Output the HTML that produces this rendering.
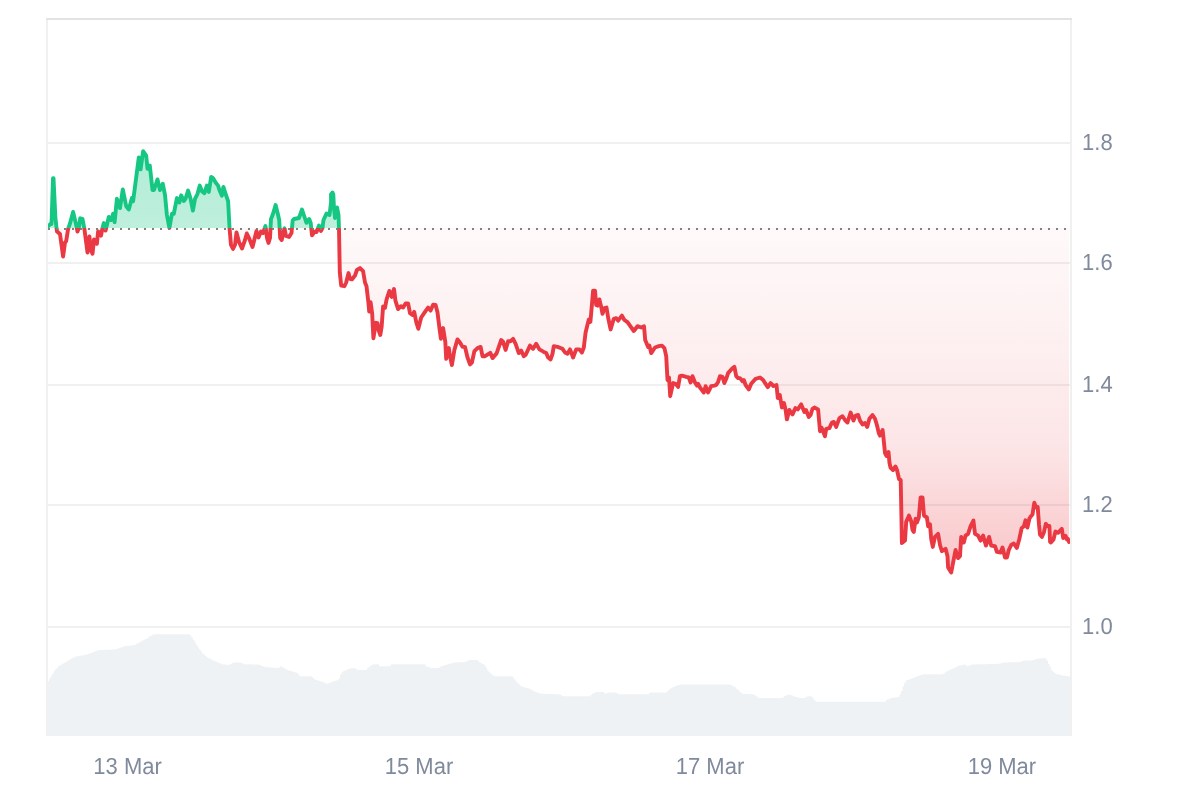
<!DOCTYPE html>
<html lang="en"><head><meta charset="utf-8"><title>Chart</title>
<style>html,body{margin:0;padding:0;background:#fff;}body{width:1200px;height:800px;overflow:hidden;font-family:"Liberation Sans",sans-serif;}svg{display:block;position:absolute;left:0;top:0;}.lbl{will-change:transform;}</style>
</head><body>
<svg width="1200" height="800" viewBox="0 0 1200 800">
<defs>
<linearGradient id="gr" gradientUnits="userSpaceOnUse" x1="0" y1="229" x2="0" y2="575"><stop offset="0.0000" stop-color="#ea3943" stop-opacity="0.03"/><stop offset="0.0983" stop-color="#ea3943" stop-opacity="0.045"/><stop offset="0.2746" stop-color="#ea3943" stop-opacity="0.07"/><stop offset="0.4509" stop-color="#ea3943" stop-opacity="0.1"/><stop offset="0.6243" stop-color="#ea3943" stop-opacity="0.13"/><stop offset="0.7254" stop-color="#ea3943" stop-opacity="0.17"/><stop offset="0.7977" stop-color="#ea3943" stop-opacity="0.21"/><stop offset="0.8988" stop-color="#ea3943" stop-opacity="0.25"/><stop offset="1.0000" stop-color="#ea3943" stop-opacity="0.29"/></linearGradient>
<linearGradient id="gg" gradientUnits="userSpaceOnUse" x1="0" y1="150" x2="0" y2="228.0"><stop offset="0" stop-color="#16c784" stop-opacity="0.33"/><stop offset="1" stop-color="#16c784" stop-opacity="0.28"/></linearGradient>
<clipPath id="cu"><rect x="48.0" y="0" width="1022.0" height="228.0"/></clipPath>
<clipPath id="cd"><rect x="48.0" y="228.0" width="1022.0" height="572.0"/></clipPath>
</defs>
<rect width="1200" height="800" fill="#fff"/>
<rect x="46" y="142" width="1026" height="2" fill="#f0f0f0"/>
<rect x="46" y="262" width="1026" height="2" fill="#f0f0f0"/>
<rect x="46" y="384" width="1026" height="2" fill="#f0f0f0"/>
<rect x="46" y="504" width="1026" height="2" fill="#f0f0f0"/>
<rect x="46" y="626" width="1026" height="2" fill="#f0f0f0"/>
<path d="M46.00 736.0 L46.00 682.50 L47.50 682.50 L47.50 681.25 L49.00 681.25 L49.00 678.75 L50.50 678.75 L50.50 676.25 L52.00 676.25 L52.00 673.75 L53.50 673.75 L53.50 671.25 L55.00 671.25 L55.00 669.25 L56.50 669.25 L56.50 667.75 L58.00 667.75 L58.00 666.25 L59.50 666.25 L59.50 665.25 L61.00 665.25 L61.00 664.50 L62.50 664.50 L62.50 663.50 L64.00 663.50 L64.00 662.75 L65.50 662.75 L65.50 661.75 L67.00 661.75 L67.00 660.75 L68.50 660.75 L68.50 660.00 L70.00 660.00 L70.00 659.00 L71.50 659.00 L71.50 658.25 L73.00 658.25 L73.00 657.50 L74.50 657.50 L74.50 656.75 L76.00 656.75 L76.00 656.25 L77.50 656.25 L77.50 656.00 L79.00 656.00 L79.00 655.75 L80.50 655.75 L80.50 655.50 L82.00 655.50 L82.00 655.25 L83.50 655.25 L83.50 655.00 L85.00 655.00 L85.00 654.75 L86.50 654.75 L86.50 654.25 L88.00 654.25 L88.00 653.75 L89.50 653.75 L89.50 653.25 L91.00 653.25 L91.00 652.75 L92.50 652.75 L92.50 652.25 L94.00 652.25 L94.00 651.50 L95.50 651.50 L95.50 651.00 L97.00 651.00 L97.00 650.50 L98.50 650.50 L98.50 650.00 L100.00 650.00 L100.00 650.00 L101.50 650.00 L101.50 650.00 L103.00 650.00 L103.00 649.75 L104.50 649.75 L104.50 649.75 L106.00 649.75 L106.00 649.75 L107.50 649.75 L107.50 649.75 L109.00 649.75 L109.00 649.75 L110.50 649.75 L110.50 649.50 L112.00 649.50 L112.00 649.50 L113.50 649.50 L113.50 649.50 L115.00 649.50 L115.00 649.25 L116.50 649.25 L116.50 648.75 L118.00 648.75 L118.00 648.25 L119.50 648.25 L119.50 647.75 L121.00 647.75 L121.00 647.25 L122.50 647.25 L122.50 646.75 L124.00 646.75 L124.00 646.25 L125.50 646.25 L125.50 646.00 L127.00 646.00 L127.00 646.00 L128.50 646.00 L128.50 645.75 L130.00 645.75 L130.00 645.50 L131.50 645.50 L131.50 645.25 L133.00 645.25 L133.00 645.25 L134.50 645.25 L134.50 644.75 L136.00 644.75 L136.00 644.00 L137.50 644.00 L137.50 643.00 L139.00 643.00 L139.00 642.25 L140.50 642.25 L140.50 641.25 L142.00 641.25 L142.00 640.50 L143.50 640.50 L143.50 639.75 L145.00 639.75 L145.00 639.00 L146.50 639.00 L146.50 638.25 L148.00 638.25 L148.00 637.25 L149.50 637.25 L149.50 636.25 L151.00 636.25 L151.00 635.50 L152.50 635.50 L152.50 634.50 L154.00 634.50 L154.00 634.25 L155.50 634.25 L155.50 634.25 L157.00 634.25 L157.00 634.25 L158.50 634.25 L158.50 634.25 L160.00 634.25 L160.00 634.25 L161.50 634.25 L161.50 634.25 L163.00 634.25 L163.00 634.25 L164.50 634.25 L164.50 634.25 L166.00 634.25 L166.00 634.25 L167.50 634.25 L167.50 634.25 L169.00 634.25 L169.00 634.25 L170.50 634.25 L170.50 634.25 L172.00 634.25 L172.00 634.25 L173.50 634.25 L173.50 634.25 L175.00 634.25 L175.00 634.25 L176.50 634.25 L176.50 634.25 L178.00 634.25 L178.00 634.25 L179.50 634.25 L179.50 634.25 L181.00 634.25 L181.00 634.25 L182.50 634.25 L182.50 634.25 L184.00 634.25 L184.00 634.25 L185.50 634.25 L185.50 634.25 L187.00 634.25 L187.00 634.25 L188.50 634.25 L188.50 634.25 L190.00 634.25 L190.00 635.50 L191.50 635.50 L191.50 637.75 L193.00 637.75 L193.00 640.00 L194.50 640.00 L194.50 642.50 L196.00 642.50 L196.00 645.00 L197.50 645.00 L197.50 647.25 L199.00 647.25 L199.00 649.25 L200.50 649.25 L200.50 651.25 L202.00 651.25 L202.00 653.25 L203.50 653.25 L203.50 654.50 L205.00 654.50 L205.00 656.00 L206.50 656.00 L206.50 657.25 L208.00 657.25 L208.00 658.00 L209.50 658.00 L209.50 659.00 L211.00 659.00 L211.00 659.50 L212.50 659.50 L212.50 660.50 L214.00 660.50 L214.00 661.00 L215.50 661.00 L215.50 661.75 L217.00 661.75 L217.00 662.25 L218.50 662.25 L218.50 663.00 L220.00 663.00 L220.00 663.50 L221.50 663.50 L221.50 664.25 L223.00 664.25 L223.00 664.50 L224.50 664.50 L224.50 664.50 L226.00 664.50 L226.00 664.75 L227.50 664.75 L227.50 665.00 L229.00 665.00 L229.00 664.50 L230.50 664.50 L230.50 663.75 L232.00 663.75 L232.00 663.00 L233.50 663.00 L233.50 662.50 L235.00 662.50 L235.00 662.50 L236.50 662.50 L236.50 662.50 L238.00 662.50 L238.00 662.50 L239.50 662.50 L239.50 662.50 L241.00 662.50 L241.00 663.00 L242.50 663.00 L242.50 663.75 L244.00 663.75 L244.00 664.25 L245.50 664.25 L245.50 664.25 L247.00 664.25 L247.00 664.25 L248.50 664.25 L248.50 664.25 L250.00 664.25 L250.00 664.25 L251.50 664.25 L251.50 664.50 L253.00 664.50 L253.00 664.50 L254.50 664.50 L254.50 664.50 L256.00 664.50 L256.00 664.50 L257.50 664.50 L257.50 664.50 L259.00 664.50 L259.00 665.00 L260.50 665.00 L260.50 665.50 L262.00 665.50 L262.00 666.00 L263.50 666.00 L263.50 666.75 L265.00 666.75 L265.00 667.00 L266.50 667.00 L266.50 667.25 L268.00 667.25 L268.00 667.25 L269.50 667.25 L269.50 667.50 L271.00 667.50 L271.00 667.50 L272.50 667.50 L272.50 667.75 L274.00 667.75 L274.00 667.75 L275.50 667.75 L275.50 668.00 L277.00 668.00 L277.00 668.00 L278.50 668.00 L278.50 667.25 L280.00 667.25 L280.00 666.50 L281.50 666.50 L281.50 666.75 L283.00 666.75 L283.00 667.75 L284.50 667.75 L284.50 668.75 L286.00 668.75 L286.00 669.50 L287.50 669.50 L287.50 670.25 L289.00 670.25 L289.00 670.75 L290.50 670.75 L290.50 671.00 L292.00 671.00 L292.00 671.50 L293.50 671.50 L293.50 672.00 L295.00 672.00 L295.00 672.50 L296.50 672.50 L296.50 673.00 L298.00 673.00 L298.00 674.50 L299.50 674.50 L299.50 676.25 L301.00 676.25 L301.00 676.25 L302.50 676.25 L302.50 676.25 L304.00 676.25 L304.00 676.25 L305.50 676.25 L305.50 676.25 L307.00 676.25 L307.00 676.25 L308.50 676.25 L308.50 676.25 L310.00 676.25 L310.00 676.25 L311.50 676.25 L311.50 677.00 L313.00 677.00 L313.00 678.50 L314.50 678.50 L314.50 679.50 L316.00 679.50 L316.00 680.00 L317.50 680.00 L317.50 680.50 L319.00 680.50 L319.00 681.00 L320.50 681.00 L320.50 681.50 L322.00 681.50 L322.00 682.00 L323.50 682.00 L323.50 682.50 L325.00 682.50 L325.00 683.25 L326.50 683.25 L326.50 683.75 L328.00 683.75 L328.00 683.25 L329.50 683.25 L329.50 682.75 L331.00 682.75 L331.00 682.00 L332.50 682.00 L332.50 681.50 L334.00 681.50 L334.00 681.00 L335.50 681.00 L335.50 680.50 L337.00 680.50 L337.00 680.25 L338.50 680.25 L338.50 678.50 L340.00 678.50 L340.00 674.50 L341.50 674.50 L341.50 672.25 L343.00 672.25 L343.00 671.25 L344.50 671.25 L344.50 670.50 L346.00 670.50 L346.00 669.75 L347.50 669.75 L347.50 669.25 L349.00 669.25 L349.00 668.75 L350.50 668.75 L350.50 668.25 L352.00 668.25 L352.00 668.25 L353.50 668.25 L353.50 668.25 L355.00 668.25 L355.00 668.25 L356.50 668.25 L356.50 669.75 L358.00 669.75 L358.00 670.00 L359.50 670.00 L359.50 670.00 L361.00 670.00 L361.00 670.00 L362.50 670.00 L362.50 670.00 L364.00 670.00 L364.00 670.00 L365.50 670.00 L365.50 670.00 L367.00 670.00 L367.00 668.50 L368.50 668.50 L368.50 667.00 L370.00 667.00 L370.00 665.75 L371.50 665.75 L371.50 665.00 L373.00 665.00 L373.00 664.25 L374.50 664.25 L374.50 664.25 L376.00 664.25 L376.00 664.25 L377.50 664.25 L377.50 664.25 L379.00 664.25 L379.00 666.00 L380.50 666.00 L380.50 666.25 L382.00 666.25 L382.00 666.25 L383.50 666.25 L383.50 666.25 L385.00 666.25 L385.00 666.25 L386.50 666.25 L386.50 666.25 L388.00 666.25 L388.00 666.25 L389.50 666.25 L389.50 665.75 L391.00 665.75 L391.00 664.25 L392.50 664.25 L392.50 664.25 L394.00 664.25 L394.00 664.25 L395.50 664.25 L395.50 664.25 L397.00 664.25 L397.00 664.25 L398.50 664.25 L398.50 664.25 L400.00 664.25 L400.00 664.25 L401.50 664.25 L401.50 664.25 L403.00 664.25 L403.00 664.25 L404.50 664.25 L404.50 664.25 L406.00 664.25 L406.00 664.25 L407.50 664.25 L407.50 664.25 L409.00 664.25 L409.00 664.25 L410.50 664.25 L410.50 664.25 L412.00 664.25 L412.00 664.25 L413.50 664.25 L413.50 664.25 L415.00 664.25 L415.00 664.25 L416.50 664.25 L416.50 664.25 L418.00 664.25 L418.00 664.25 L419.50 664.25 L419.50 664.25 L421.00 664.25 L421.00 664.25 L422.50 664.25 L422.50 664.25 L424.00 664.25 L424.00 664.25 L425.50 664.25 L425.50 666.25 L427.00 666.25 L427.00 666.75 L428.50 666.75 L428.50 667.25 L430.00 667.25 L430.00 667.75 L431.50 667.75 L431.50 668.00 L433.00 668.00 L433.00 668.00 L434.50 668.00 L434.50 668.00 L436.00 668.00 L436.00 668.00 L437.50 668.00 L437.50 668.00 L439.00 668.00 L439.00 667.25 L440.50 667.25 L440.50 666.25 L442.00 666.25 L442.00 665.75 L443.50 665.75 L443.50 665.50 L445.00 665.50 L445.00 665.00 L446.50 665.00 L446.50 664.50 L448.00 664.50 L448.00 664.00 L449.50 664.00 L449.50 663.50 L451.00 663.50 L451.00 663.25 L452.50 663.25 L452.50 662.75 L454.00 662.75 L454.00 662.50 L455.50 662.50 L455.50 662.50 L457.00 662.50 L457.00 662.25 L458.50 662.25 L458.50 662.25 L460.00 662.25 L460.00 662.25 L461.50 662.25 L461.50 662.25 L463.00 662.25 L463.00 662.00 L464.50 662.00 L464.50 662.00 L466.00 662.00 L466.00 661.50 L467.50 661.50 L467.50 660.50 L469.00 660.50 L469.00 660.00 L470.50 660.00 L470.50 660.00 L472.00 660.00 L472.00 660.00 L473.50 660.00 L473.50 660.00 L475.00 660.00 L475.00 660.00 L476.50 660.00 L476.50 660.00 L478.00 660.00 L478.00 661.25 L479.50 661.25 L479.50 662.50 L481.00 662.50 L481.00 663.50 L482.50 663.50 L482.50 664.00 L484.00 664.00 L484.00 665.00 L485.50 665.00 L485.50 667.50 L487.00 667.50 L487.00 670.25 L488.50 670.25 L488.50 671.75 L490.00 671.75 L490.00 673.25 L491.50 673.25 L491.50 674.75 L493.00 674.75 L493.00 675.50 L494.50 675.50 L494.50 676.25 L496.00 676.25 L496.00 676.25 L497.50 676.25 L497.50 676.25 L499.00 676.25 L499.00 676.25 L500.50 676.25 L500.50 676.25 L502.00 676.25 L502.00 676.25 L503.50 676.25 L503.50 676.25 L505.00 676.25 L505.00 676.25 L506.50 676.25 L506.50 676.25 L508.00 676.25 L508.00 676.25 L509.50 676.25 L509.50 676.25 L511.00 676.25 L511.00 676.25 L512.50 676.25 L512.50 677.25 L514.00 677.25 L514.00 679.25 L515.50 679.25 L515.50 681.25 L517.00 681.25 L517.00 682.75 L518.50 682.75 L518.50 684.25 L520.00 684.25 L520.00 685.75 L521.50 685.75 L521.50 686.50 L523.00 686.50 L523.00 687.00 L524.50 687.00 L524.50 687.50 L526.00 687.50 L526.00 687.75 L527.50 687.75 L527.50 688.25 L529.00 688.25 L529.00 688.75 L530.50 688.75 L530.50 689.50 L532.00 689.50 L532.00 690.50 L533.50 690.50 L533.50 691.25 L535.00 691.25 L535.00 692.00 L536.50 692.00 L536.50 692.50 L538.00 692.50 L538.00 693.00 L539.50 693.00 L539.50 693.50 L541.00 693.50 L541.00 693.75 L542.50 693.75 L542.50 693.75 L544.00 693.75 L544.00 693.75 L545.50 693.75 L545.50 694.00 L547.00 694.00 L547.00 694.00 L548.50 694.00 L548.50 694.00 L550.00 694.00 L550.00 694.00 L551.50 694.00 L551.50 694.00 L553.00 694.00 L553.00 694.00 L554.50 694.00 L554.50 694.00 L556.00 694.00 L556.00 694.25 L557.50 694.25 L557.50 694.25 L559.00 694.25 L559.00 694.25 L560.50 694.25 L560.50 695.25 L562.00 695.25 L562.00 696.25 L563.50 696.25 L563.50 696.25 L565.00 696.25 L565.00 696.25 L566.50 696.25 L566.50 696.25 L568.00 696.25 L568.00 696.25 L569.50 696.25 L569.50 696.25 L571.00 696.25 L571.00 696.25 L572.50 696.25 L572.50 696.25 L574.00 696.25 L574.00 696.25 L575.50 696.25 L575.50 696.25 L577.00 696.25 L577.00 696.25 L578.50 696.25 L578.50 696.25 L580.00 696.25 L580.00 696.25 L581.50 696.25 L581.50 696.25 L583.00 696.25 L583.00 696.25 L584.50 696.25 L584.50 696.25 L586.00 696.25 L586.00 696.25 L587.50 696.25 L587.50 696.25 L589.00 696.25 L589.00 696.25 L590.50 696.25 L590.50 695.00 L592.00 695.00 L592.00 693.75 L593.50 693.75 L593.50 693.00 L595.00 693.00 L595.00 692.25 L596.50 692.25 L596.50 692.00 L598.00 692.00 L598.00 692.00 L599.50 692.00 L599.50 692.00 L601.00 692.00 L601.00 692.00 L602.50 692.00 L602.50 692.00 L604.00 692.00 L604.00 693.50 L605.50 693.50 L605.50 693.25 L607.00 693.25 L607.00 692.75 L608.50 692.75 L608.50 692.50 L610.00 692.50 L610.00 692.50 L611.50 692.50 L611.50 692.50 L613.00 692.50 L613.00 692.50 L614.50 692.50 L614.50 692.50 L616.00 692.50 L616.00 692.75 L617.50 692.75 L617.50 694.00 L619.00 694.00 L619.00 694.25 L620.50 694.25 L620.50 694.25 L622.00 694.25 L622.00 694.25 L623.50 694.25 L623.50 694.25 L625.00 694.25 L625.00 694.25 L626.50 694.25 L626.50 694.25 L628.00 694.25 L628.00 694.25 L629.50 694.25 L629.50 694.25 L631.00 694.25 L631.00 694.25 L632.50 694.25 L632.50 694.25 L634.00 694.25 L634.00 694.25 L635.50 694.25 L635.50 694.25 L637.00 694.25 L637.00 694.25 L638.50 694.25 L638.50 694.25 L640.00 694.25 L640.00 694.25 L641.50 694.25 L641.50 694.25 L643.00 694.25 L643.00 694.25 L644.50 694.25 L644.50 694.25 L646.00 694.25 L646.00 694.25 L647.50 694.25 L647.50 694.25 L649.00 694.25 L649.00 692.75 L650.50 692.75 L650.50 692.50 L652.00 692.50 L652.00 692.50 L653.50 692.50 L653.50 692.50 L655.00 692.50 L655.00 692.50 L656.50 692.50 L656.50 692.50 L658.00 692.50 L658.00 692.50 L659.50 692.50 L659.50 692.50 L661.00 692.50 L661.00 692.50 L662.50 692.50 L662.50 692.50 L664.00 692.50 L664.00 692.50 L665.50 692.50 L665.50 692.50 L667.00 692.50 L667.00 691.00 L668.50 691.00 L668.50 689.50 L670.00 689.50 L670.00 688.50 L671.50 688.50 L671.50 687.50 L673.00 687.50 L673.00 687.00 L674.50 687.00 L674.50 686.25 L676.00 686.25 L676.00 685.75 L677.50 685.75 L677.50 685.25 L679.00 685.25 L679.00 685.00 L680.50 685.00 L680.50 684.50 L682.00 684.50 L682.00 684.50 L683.50 684.50 L683.50 684.50 L685.00 684.50 L685.00 684.50 L686.50 684.50 L686.50 684.50 L688.00 684.50 L688.00 684.50 L689.50 684.50 L689.50 684.50 L691.00 684.50 L691.00 684.50 L692.50 684.50 L692.50 684.50 L694.00 684.50 L694.00 684.50 L695.50 684.50 L695.50 684.50 L697.00 684.50 L697.00 684.50 L698.50 684.50 L698.50 684.50 L700.00 684.50 L700.00 684.50 L701.50 684.50 L701.50 684.50 L703.00 684.50 L703.00 684.50 L704.50 684.50 L704.50 684.50 L706.00 684.50 L706.00 684.50 L707.50 684.50 L707.50 684.50 L709.00 684.50 L709.00 684.50 L710.50 684.50 L710.50 684.50 L712.00 684.50 L712.00 684.50 L713.50 684.50 L713.50 684.50 L715.00 684.50 L715.00 684.50 L716.50 684.50 L716.50 684.50 L718.00 684.50 L718.00 684.50 L719.50 684.50 L719.50 684.50 L721.00 684.50 L721.00 684.50 L722.50 684.50 L722.50 684.50 L724.00 684.50 L724.00 684.50 L725.50 684.50 L725.50 684.50 L727.00 684.50 L727.00 684.50 L728.50 684.50 L728.50 684.50 L730.00 684.50 L730.00 685.00 L731.50 685.00 L731.50 685.50 L733.00 685.50 L733.00 686.50 L734.50 686.50 L734.50 687.25 L736.00 687.25 L736.00 688.75 L737.50 688.75 L737.50 690.00 L739.00 690.00 L739.00 691.25 L740.50 691.25 L740.50 692.75 L742.00 692.75 L742.00 693.75 L743.50 693.75 L743.50 693.75 L745.00 693.75 L745.00 694.00 L746.50 694.00 L746.50 694.00 L748.00 694.00 L748.00 694.00 L749.50 694.00 L749.50 694.00 L751.00 694.00 L751.00 694.25 L752.50 694.25 L752.50 694.25 L754.00 694.25 L754.00 695.00 L755.50 695.00 L755.50 696.00 L757.00 696.00 L757.00 697.25 L758.50 697.25 L758.50 698.00 L760.00 698.00 L760.00 698.00 L761.50 698.00 L761.50 698.00 L763.00 698.00 L763.00 698.00 L764.50 698.00 L764.50 698.00 L766.00 698.00 L766.00 698.00 L767.50 698.00 L767.50 698.00 L769.00 698.00 L769.00 698.00 L770.50 698.00 L770.50 698.00 L772.00 698.00 L772.00 698.00 L773.50 698.00 L773.50 698.00 L775.00 698.00 L775.00 698.00 L776.50 698.00 L776.50 698.00 L778.00 698.00 L778.00 698.00 L779.50 698.00 L779.50 698.00 L781.00 698.00 L781.00 698.00 L782.50 698.00 L782.50 697.25 L784.00 697.25 L784.00 696.00 L785.50 696.00 L785.50 695.50 L787.00 695.50 L787.00 695.00 L788.50 695.00 L788.50 694.50 L790.00 694.50 L790.00 694.75 L791.50 694.75 L791.50 695.50 L793.00 695.50 L793.00 696.25 L794.50 696.25 L794.50 696.75 L796.00 696.75 L796.00 697.00 L797.50 697.00 L797.50 697.50 L799.00 697.50 L799.00 698.00 L800.50 698.00 L800.50 698.00 L802.00 698.00 L802.00 698.00 L803.50 698.00 L803.50 698.00 L805.00 698.00 L805.00 697.50 L806.50 697.50 L806.50 696.50 L808.00 696.50 L808.00 696.25 L809.50 696.25 L809.50 696.25 L811.00 696.25 L811.00 696.50 L812.50 696.50 L812.50 698.25 L814.00 698.25 L814.00 700.00 L815.50 700.00 L815.50 701.75 L817.00 701.75 L817.00 701.75 L818.50 701.75 L818.50 701.75 L820.00 701.75 L820.00 701.75 L821.50 701.75 L821.50 701.75 L823.00 701.75 L823.00 701.75 L824.50 701.75 L824.50 701.75 L826.00 701.75 L826.00 701.75 L827.50 701.75 L827.50 701.75 L829.00 701.75 L829.00 701.75 L830.50 701.75 L830.50 701.75 L832.00 701.75 L832.00 701.75 L833.50 701.75 L833.50 701.75 L835.00 701.75 L835.00 701.75 L836.50 701.75 L836.50 701.75 L838.00 701.75 L838.00 701.75 L839.50 701.75 L839.50 701.75 L841.00 701.75 L841.00 701.75 L842.50 701.75 L842.50 701.75 L844.00 701.75 L844.00 701.75 L845.50 701.75 L845.50 701.75 L847.00 701.75 L847.00 701.75 L848.50 701.75 L848.50 701.75 L850.00 701.75 L850.00 701.75 L851.50 701.75 L851.50 701.75 L853.00 701.75 L853.00 701.75 L854.50 701.75 L854.50 701.75 L856.00 701.75 L856.00 701.75 L857.50 701.75 L857.50 701.75 L859.00 701.75 L859.00 701.75 L860.50 701.75 L860.50 701.75 L862.00 701.75 L862.00 701.75 L863.50 701.75 L863.50 701.75 L865.00 701.75 L865.00 701.75 L866.50 701.75 L866.50 701.75 L868.00 701.75 L868.00 701.75 L869.50 701.75 L869.50 701.75 L871.00 701.75 L871.00 701.75 L872.50 701.75 L872.50 701.75 L874.00 701.75 L874.00 701.75 L875.50 701.75 L875.50 701.75 L877.00 701.75 L877.00 701.75 L878.50 701.75 L878.50 701.75 L880.00 701.75 L880.00 701.75 L881.50 701.75 L881.50 701.75 L883.00 701.75 L883.00 701.75 L884.50 701.75 L884.50 701.50 L886.00 701.50 L886.00 699.75 L887.50 699.75 L887.50 699.25 L889.00 699.25 L889.00 698.50 L890.50 698.50 L890.50 698.00 L892.00 698.00 L892.00 697.75 L893.50 697.75 L893.50 697.50 L895.00 697.50 L895.00 697.50 L896.50 697.50 L896.50 697.25 L898.00 697.25 L898.00 697.00 L899.50 697.00 L899.50 694.25 L901.00 694.25 L901.00 691.00 L902.50 691.00 L902.50 686.50 L904.00 686.50 L904.00 683.25 L905.50 683.25 L905.50 680.50 L907.00 680.50 L907.00 680.00 L908.50 680.00 L908.50 679.50 L910.00 679.50 L910.00 679.00 L911.50 679.00 L911.50 678.25 L913.00 678.25 L913.00 677.75 L914.50 677.75 L914.50 677.25 L916.00 677.25 L916.00 676.50 L917.50 676.50 L917.50 676.00 L919.00 676.00 L919.00 675.50 L920.50 675.50 L920.50 675.00 L922.00 675.00 L922.00 674.50 L923.50 674.50 L923.50 674.25 L925.00 674.25 L925.00 674.25 L926.50 674.25 L926.50 674.25 L928.00 674.25 L928.00 674.25 L929.50 674.25 L929.50 674.25 L931.00 674.25 L931.00 674.25 L932.50 674.25 L932.50 674.25 L934.00 674.25 L934.00 674.25 L935.50 674.25 L935.50 674.25 L937.00 674.25 L937.00 674.25 L938.50 674.25 L938.50 674.25 L940.00 674.25 L940.00 674.25 L941.50 674.25 L941.50 674.25 L943.00 674.25 L943.00 673.50 L944.50 673.50 L944.50 672.50 L946.00 672.50 L946.00 671.50 L947.50 671.50 L947.50 670.75 L949.00 670.75 L949.00 670.00 L950.50 670.00 L950.50 669.25 L952.00 669.25 L952.00 668.75 L953.50 668.75 L953.50 668.00 L955.00 668.00 L955.00 667.25 L956.50 667.25 L956.50 666.50 L958.00 666.50 L958.00 665.75 L959.50 665.75 L959.50 665.50 L961.00 665.50 L961.00 665.25 L962.50 665.25 L962.50 664.75 L964.00 664.75 L964.00 664.50 L965.50 664.50 L965.50 665.50 L967.00 665.50 L967.00 666.25 L968.50 666.25 L968.50 665.75 L970.00 665.75 L970.00 665.00 L971.50 665.00 L971.50 664.50 L973.00 664.50 L973.00 664.50 L974.50 664.50 L974.50 664.50 L976.00 664.50 L976.00 664.50 L977.50 664.50 L977.50 664.25 L979.00 664.25 L979.00 664.25 L980.50 664.25 L980.50 664.25 L982.00 664.25 L982.00 664.25 L983.50 664.25 L983.50 664.25 L985.00 664.25 L985.00 664.25 L986.50 664.25 L986.50 664.00 L988.00 664.00 L988.00 664.00 L989.50 664.00 L989.50 664.00 L991.00 664.00 L991.00 664.00 L992.50 664.00 L992.50 664.00 L994.00 664.00 L994.00 664.00 L995.50 664.00 L995.50 663.75 L997.00 663.75 L997.00 663.75 L998.50 663.75 L998.50 663.75 L1000.00 663.75 L1000.00 663.50 L1001.50 663.50 L1001.50 663.00 L1003.00 663.00 L1003.00 662.50 L1004.50 662.50 L1004.50 662.50 L1006.00 662.50 L1006.00 662.50 L1007.50 662.50 L1007.50 662.25 L1009.00 662.25 L1009.00 662.25 L1010.50 662.25 L1010.50 662.25 L1012.00 662.25 L1012.00 662.25 L1013.50 662.25 L1013.50 662.25 L1015.00 662.25 L1015.00 662.25 L1016.50 662.25 L1016.50 662.00 L1018.00 662.00 L1018.00 662.00 L1019.50 662.00 L1019.50 662.00 L1021.00 662.00 L1021.00 661.25 L1022.50 661.25 L1022.50 660.75 L1024.00 660.75 L1024.00 660.50 L1025.50 660.50 L1025.50 660.50 L1027.00 660.50 L1027.00 660.50 L1028.50 660.50 L1028.50 660.50 L1030.00 660.50 L1030.00 660.50 L1031.50 660.50 L1031.50 660.50 L1033.00 660.50 L1033.00 660.00 L1034.50 660.00 L1034.50 659.50 L1036.00 659.50 L1036.00 659.00 L1037.50 659.00 L1037.50 658.75 L1039.00 658.75 L1039.00 658.25 L1040.50 658.25 L1040.50 658.25 L1042.00 658.25 L1042.00 658.25 L1043.50 658.25 L1043.50 658.25 L1045.00 658.25 L1045.00 658.25 L1046.50 658.25 L1046.50 660.50 L1048.00 660.50 L1048.00 663.75 L1049.50 663.75 L1049.50 666.75 L1051.00 666.75 L1051.00 669.75 L1052.50 669.75 L1052.50 671.75 L1054.00 671.75 L1054.00 672.75 L1055.50 672.75 L1055.50 673.75 L1057.00 673.75 L1057.00 674.25 L1058.50 674.25 L1058.50 674.50 L1060.00 674.50 L1060.00 675.00 L1061.50 675.00 L1061.50 675.50 L1063.00 675.50 L1063.00 675.75 L1064.50 675.75 L1064.50 675.75 L1066.00 675.75 L1066.00 676.00 L1067.50 676.00 L1067.50 676.25 L1069.00 676.25 L1069.00 676.75 L1070.50 676.75 L1070.50 677.25 L1072.00 677.25 L1072 736.0 Z" fill="#eff2f5"/>
<rect x="46" y="18" width="2" height="718.0" fill="#f0f0f0"/>
<rect x="1070" y="18" width="2" height="718.0" fill="#f0f0f0"/>
<rect x="46" y="18" width="1026" height="2" fill="#e3e3e3"/>
<path d="M46.5 227.0 L48.5 226.0 L50.3 224.0 L51.5 224.0 L53.0 178.2 L53.5 178.2 L55.4 218.0 L56.3 226.0 L57.0 231.5 L60.0 234.0 L63.1 256.5 L65.0 242.5 L66.2 241.0 L68.1 229.0 L70.0 223.5 L73.1 211.9 L76.3 225.5 L77.5 231.5 L78.8 228.0 L80.2 218.3 L82.5 218.8 L84.4 229.0 L87.5 252.5 L89.4 236.5 L91.0 250.0 L92.5 253.8 L94.0 239.5 L96.9 243.8 L98.1 231.5 L101.0 235.6 L102.3 229.0 L103.8 223.1 L105.6 230.5 L106.9 225.0 L108.8 216.9 L111.2 220.0 L113.1 213.8 L114.6 222.2 L116.9 198.8 L120.0 208.1 L122.8 189.4 L126.2 206.2 L128.8 209.4 L131.9 198.1 L133.1 201.2 L138.8 157.5 L140.6 169.4 L143.1 151.2 L146.2 155.6 L147.5 168.8 L149.8 165.6 L152.5 190.0 L154.0 190.0 L157.5 179.4 L160.0 190.0 L162.8 183.8 L165.0 195.0 L166.9 215.0 L169.4 228.0 L171.9 213.8 L173.8 213.8 L176.9 198.1 L179.4 202.5 L181.2 195.3 L183.8 201.0 L185.6 198.5 L188.1 190.6 L190.6 198.8 L192.9 210.6 L195.0 198.8 L197.5 193.8 L199.8 185.6 L201.9 191.2 L204.4 193.1 L206.9 185.6 L208.8 191.9 L211.2 176.9 L213.1 178.1 L215.6 182.5 L218.1 185.6 L219.4 190.0 L221.9 195.6 L223.4 186.9 L225.6 193.8 L228.1 201.2 L229.6 229.0 L231.0 245.0 L233.0 249.0 L235.0 245.0 L236.5 232.5 L239.0 242.0 L242.0 248.5 L245.0 240.0 L246.8 233.5 L249.0 238.0 L252.5 247.0 L255.0 237.0 L256.5 231.0 L258.5 237.5 L261.0 231.5 L263.0 233.0 L265.5 226.0 L267.0 238.0 L268.5 243.0 L270.0 238.0 L271.0 219.0 L273.0 214.0 L275.6 205.0 L278.1 215.0 L279.2 220.0 L280.2 238.0 L281.7 240.0 L284.5 228.3 L286.0 236.0 L289.0 237.0 L291.5 233.0 L292.7 220.5 L294.0 219.0 L299.0 218.0 L302.0 209.5 L304.5 217.0 L306.5 222.8 L309.2 219.0 L310.7 223.0 L312.0 235.3 L314.5 231.8 L316.5 232.0 L319.0 225.5 L321.0 231.0 L322.5 228.0 L323.5 220.0 L326.5 213.6 L329.5 215.0 L331.1 202.0 L331.0 194.5 L332.5 192.5 L333.3 194.5 L334.0 208.0 L335.0 218.0 L337.0 207.5 L338.5 215.0 L339.0 229.0 L339.8 272.5 L341.2 285.6 L344.4 286.2 L346.2 282.5 L348.5 273.1 L350.0 278.8 L351.9 279.4 L355.0 275.6 L356.9 270.0 L360.0 268.1 L363.1 271.2 L365.0 282.5 L366.5 286.2 L368.4 302.5 L369.2 311.5 L370.6 302.2 L372.2 313.8 L373.4 338.2 L375.9 322.8 L377.5 323.2 L378.6 330.0 L380.3 335.0 L381.6 327.0 L383.1 306.5 L385.0 307.8 L386.6 299.4 L389.4 290.9 L391.7 296.9 L394.0 289.0 L395.4 300.6 L398.1 309.1 L400.9 306.2 L403.1 307.5 L405.6 303.4 L408.1 303.4 L410.0 313.1 L412.5 315.0 L414.2 311.9 L416.2 321.9 L418.3 328.8 L421.2 317.5 L425.0 311.9 L428.1 307.5 L430.6 310.6 L433.1 304.7 L435.6 305.0 L437.5 312.5 L439.7 330.0 L440.9 338.8 L443.1 328.1 L445.3 341.9 L446.2 358.8 L448.8 348.1 L450.0 356.2 L451.9 365.0 L454.4 350.0 L457.5 339.4 L460.0 342.5 L462.5 346.9 L465.0 346.9 L467.5 357.5 L470.0 364.4 L471.9 362.5 L474.4 351.2 L477.5 348.1 L480.6 346.9 L482.5 356.2 L485.0 356.2 L490.3 352.8 L492.5 358.1 L496.6 353.4 L501.2 340.0 L503.1 341.9 L505.6 350.0 L508.1 341.2 L510.6 341.2 L513.1 338.8 L515.6 343.8 L518.8 353.1 L521.2 350.6 L523.8 356.2 L525.6 355.0 L530.0 345.6 L533.1 348.8 L536.2 343.8 L539.4 349.4 L543.8 351.9 L546.2 353.1 L548.1 357.5 L550.6 359.4 L552.5 353.8 L553.8 346.2 L557.5 346.9 L562.5 348.8 L565.0 352.5 L567.5 353.8 L570.0 349.4 L573.1 357.5 L576.2 349.4 L579.4 349.4 L581.9 352.5 L583.8 347.5 L585.6 332.5 L588.8 319.4 L590.4 321.9 L591.9 305.0 L593.1 290.6 L595.0 290.6 L596.2 305.0 L597.5 305.6 L599.4 299.4 L601.2 306.9 L602.5 313.8 L604.4 308.1 L606.5 307.5 L608.1 317.5 L610.6 329.4 L613.8 318.8 L616.2 318.1 L618.1 320.6 L621.9 315.6 L624.4 320.0 L627.5 322.2 L630.3 326.2 L633.8 331.0 L637.5 326.2 L641.2 327.5 L644.0 326.2 L645.2 340.0 L648.1 346.9 L649.4 345.6 L651.2 353.1 L655.0 347.5 L658.8 346.2 L661.9 345.6 L664.4 348.1 L666.2 356.2 L667.5 380.0 L669.0 377.5 L670.2 396.2 L673.1 383.1 L675.6 383.8 L678.1 386.9 L680.0 376.2 L681.9 375.6 L686.2 376.9 L688.8 377.5 L690.6 382.5 L692.5 376.2 L695.0 382.5 L696.9 385.6 L698.1 383.8 L700.0 387.5 L703.8 392.5 L705.6 386.2 L708.1 392.5 L711.2 386.2 L714.4 385.6 L716.2 385.0 L718.1 381.9 L720.0 376.2 L722.5 376.9 L724.4 383.1 L726.2 378.8 L728.1 373.1 L731.9 368.8 L734.4 366.9 L736.2 376.2 L738.1 378.1 L740.0 378.1 L742.5 381.2 L743.8 380.0 L745.6 385.0 L748.8 389.4 L751.2 383.8 L755.6 378.8 L760.0 377.5 L763.1 380.0 L767.8 387.2 L770.6 383.1 L773.5 386.0 L776.5 385.0 L777.8 398.1 L779.8 395.0 L781.9 407.5 L784.0 403.1 L785.6 410.0 L786.9 419.4 L789.4 410.0 L792.5 414.4 L795.4 408.1 L797.8 409.4 L801.2 404.4 L804.4 411.9 L806.0 410.0 L808.8 416.9 L810.6 415.0 L812.5 408.8 L814.4 407.5 L818.1 409.4 L820.0 431.2 L821.5 427.5 L825.0 436.2 L826.2 428.8 L829.4 428.1 L831.9 422.5 L833.8 421.9 L836.2 426.9 L839.4 418.1 L842.5 416.2 L845.0 420.0 L847.5 422.5 L850.6 412.5 L853.5 420.6 L855.6 415.6 L858.1 415.0 L860.0 420.6 L862.5 424.4 L865.0 423.1 L867.2 426.9 L869.4 418.8 L872.5 415.0 L875.0 418.8 L876.9 425.0 L878.8 433.1 L880.0 435.6 L882.6 430.0 L883.6 439.0 L885.0 453.0 L886.6 456.0 L888.5 452.0 L889.5 463.0 L890.5 467.5 L893.0 470.0 L895.5 466.5 L897.0 470.0 L899.0 479.0 L900.7 480.0 L901.3 510.0 L901.9 543.1 L905.0 540.6 L906.2 521.9 L909.0 515.6 L911.2 521.2 L912.5 530.0 L913.8 531.9 L915.6 518.8 L916.9 522.5 L918.8 517.5 L920.6 497.5 L922.5 497.5 L924.0 515.6 L926.9 517.5 L928.1 526.2 L930.0 524.4 L931.2 538.8 L932.8 546.9 L935.0 536.9 L938.1 533.8 L940.0 545.0 L941.9 551.2 L945.6 548.8 L947.5 556.2 L948.1 567.5 L951.2 572.5 L953.1 562.5 L955.6 550.0 L958.1 558.1 L960.0 556.2 L961.2 536.9 L963.8 542.5 L965.6 535.6 L968.1 533.8 L970.6 526.2 L973.4 520.6 L975.0 533.8 L978.1 535.6 L980.6 540.6 L983.1 535.6 L986.0 545.6 L989.1 536.9 L991.2 545.6 L995.0 546.2 L996.9 551.9 L1000.6 552.5 L1002.5 547.5 L1005.0 557.5 L1006.9 557.5 L1008.8 550.0 L1011.2 545.0 L1013.8 543.5 L1016.8 548.0 L1019.2 539.5 L1021.7 528.0 L1023.8 526.5 L1025.5 520.3 L1027.4 527.5 L1029.5 518.3 L1031.0 516.2 L1032.5 514.5 L1034.3 502.7 L1035.9 507.2 L1037.7 507.0 L1039.0 524.5 L1040.0 534.5 L1041.9 536.9 L1043.8 532.8 L1045.8 523.8 L1047.5 526.0 L1049.4 526.0 L1050.1 541.8 L1050.9 542.5 L1053.5 539.5 L1055.4 531.6 L1058.0 532.8 L1061.8 528.8 L1063.2 538.0 L1065.5 535.8 L1067.0 539.5 L1068.0 539.0 L1069.1 542.0 L1069.1 228.0 L46.5 228.0 Z" fill="url(#gg)" clip-path="url(#cu)"/>
<path d="M46.5 227.0 L48.5 226.0 L50.3 224.0 L51.5 224.0 L53.0 178.2 L53.5 178.2 L55.4 218.0 L56.3 226.0 L57.0 231.5 L60.0 234.0 L63.1 256.5 L65.0 242.5 L66.2 241.0 L68.1 229.0 L70.0 223.5 L73.1 211.9 L76.3 225.5 L77.5 231.5 L78.8 228.0 L80.2 218.3 L82.5 218.8 L84.4 229.0 L87.5 252.5 L89.4 236.5 L91.0 250.0 L92.5 253.8 L94.0 239.5 L96.9 243.8 L98.1 231.5 L101.0 235.6 L102.3 229.0 L103.8 223.1 L105.6 230.5 L106.9 225.0 L108.8 216.9 L111.2 220.0 L113.1 213.8 L114.6 222.2 L116.9 198.8 L120.0 208.1 L122.8 189.4 L126.2 206.2 L128.8 209.4 L131.9 198.1 L133.1 201.2 L138.8 157.5 L140.6 169.4 L143.1 151.2 L146.2 155.6 L147.5 168.8 L149.8 165.6 L152.5 190.0 L154.0 190.0 L157.5 179.4 L160.0 190.0 L162.8 183.8 L165.0 195.0 L166.9 215.0 L169.4 228.0 L171.9 213.8 L173.8 213.8 L176.9 198.1 L179.4 202.5 L181.2 195.3 L183.8 201.0 L185.6 198.5 L188.1 190.6 L190.6 198.8 L192.9 210.6 L195.0 198.8 L197.5 193.8 L199.8 185.6 L201.9 191.2 L204.4 193.1 L206.9 185.6 L208.8 191.9 L211.2 176.9 L213.1 178.1 L215.6 182.5 L218.1 185.6 L219.4 190.0 L221.9 195.6 L223.4 186.9 L225.6 193.8 L228.1 201.2 L229.6 229.0 L231.0 245.0 L233.0 249.0 L235.0 245.0 L236.5 232.5 L239.0 242.0 L242.0 248.5 L245.0 240.0 L246.8 233.5 L249.0 238.0 L252.5 247.0 L255.0 237.0 L256.5 231.0 L258.5 237.5 L261.0 231.5 L263.0 233.0 L265.5 226.0 L267.0 238.0 L268.5 243.0 L270.0 238.0 L271.0 219.0 L273.0 214.0 L275.6 205.0 L278.1 215.0 L279.2 220.0 L280.2 238.0 L281.7 240.0 L284.5 228.3 L286.0 236.0 L289.0 237.0 L291.5 233.0 L292.7 220.5 L294.0 219.0 L299.0 218.0 L302.0 209.5 L304.5 217.0 L306.5 222.8 L309.2 219.0 L310.7 223.0 L312.0 235.3 L314.5 231.8 L316.5 232.0 L319.0 225.5 L321.0 231.0 L322.5 228.0 L323.5 220.0 L326.5 213.6 L329.5 215.0 L331.1 202.0 L331.0 194.5 L332.5 192.5 L333.3 194.5 L334.0 208.0 L335.0 218.0 L337.0 207.5 L338.5 215.0 L339.0 229.0 L339.8 272.5 L341.2 285.6 L344.4 286.2 L346.2 282.5 L348.5 273.1 L350.0 278.8 L351.9 279.4 L355.0 275.6 L356.9 270.0 L360.0 268.1 L363.1 271.2 L365.0 282.5 L366.5 286.2 L368.4 302.5 L369.2 311.5 L370.6 302.2 L372.2 313.8 L373.4 338.2 L375.9 322.8 L377.5 323.2 L378.6 330.0 L380.3 335.0 L381.6 327.0 L383.1 306.5 L385.0 307.8 L386.6 299.4 L389.4 290.9 L391.7 296.9 L394.0 289.0 L395.4 300.6 L398.1 309.1 L400.9 306.2 L403.1 307.5 L405.6 303.4 L408.1 303.4 L410.0 313.1 L412.5 315.0 L414.2 311.9 L416.2 321.9 L418.3 328.8 L421.2 317.5 L425.0 311.9 L428.1 307.5 L430.6 310.6 L433.1 304.7 L435.6 305.0 L437.5 312.5 L439.7 330.0 L440.9 338.8 L443.1 328.1 L445.3 341.9 L446.2 358.8 L448.8 348.1 L450.0 356.2 L451.9 365.0 L454.4 350.0 L457.5 339.4 L460.0 342.5 L462.5 346.9 L465.0 346.9 L467.5 357.5 L470.0 364.4 L471.9 362.5 L474.4 351.2 L477.5 348.1 L480.6 346.9 L482.5 356.2 L485.0 356.2 L490.3 352.8 L492.5 358.1 L496.6 353.4 L501.2 340.0 L503.1 341.9 L505.6 350.0 L508.1 341.2 L510.6 341.2 L513.1 338.8 L515.6 343.8 L518.8 353.1 L521.2 350.6 L523.8 356.2 L525.6 355.0 L530.0 345.6 L533.1 348.8 L536.2 343.8 L539.4 349.4 L543.8 351.9 L546.2 353.1 L548.1 357.5 L550.6 359.4 L552.5 353.8 L553.8 346.2 L557.5 346.9 L562.5 348.8 L565.0 352.5 L567.5 353.8 L570.0 349.4 L573.1 357.5 L576.2 349.4 L579.4 349.4 L581.9 352.5 L583.8 347.5 L585.6 332.5 L588.8 319.4 L590.4 321.9 L591.9 305.0 L593.1 290.6 L595.0 290.6 L596.2 305.0 L597.5 305.6 L599.4 299.4 L601.2 306.9 L602.5 313.8 L604.4 308.1 L606.5 307.5 L608.1 317.5 L610.6 329.4 L613.8 318.8 L616.2 318.1 L618.1 320.6 L621.9 315.6 L624.4 320.0 L627.5 322.2 L630.3 326.2 L633.8 331.0 L637.5 326.2 L641.2 327.5 L644.0 326.2 L645.2 340.0 L648.1 346.9 L649.4 345.6 L651.2 353.1 L655.0 347.5 L658.8 346.2 L661.9 345.6 L664.4 348.1 L666.2 356.2 L667.5 380.0 L669.0 377.5 L670.2 396.2 L673.1 383.1 L675.6 383.8 L678.1 386.9 L680.0 376.2 L681.9 375.6 L686.2 376.9 L688.8 377.5 L690.6 382.5 L692.5 376.2 L695.0 382.5 L696.9 385.6 L698.1 383.8 L700.0 387.5 L703.8 392.5 L705.6 386.2 L708.1 392.5 L711.2 386.2 L714.4 385.6 L716.2 385.0 L718.1 381.9 L720.0 376.2 L722.5 376.9 L724.4 383.1 L726.2 378.8 L728.1 373.1 L731.9 368.8 L734.4 366.9 L736.2 376.2 L738.1 378.1 L740.0 378.1 L742.5 381.2 L743.8 380.0 L745.6 385.0 L748.8 389.4 L751.2 383.8 L755.6 378.8 L760.0 377.5 L763.1 380.0 L767.8 387.2 L770.6 383.1 L773.5 386.0 L776.5 385.0 L777.8 398.1 L779.8 395.0 L781.9 407.5 L784.0 403.1 L785.6 410.0 L786.9 419.4 L789.4 410.0 L792.5 414.4 L795.4 408.1 L797.8 409.4 L801.2 404.4 L804.4 411.9 L806.0 410.0 L808.8 416.9 L810.6 415.0 L812.5 408.8 L814.4 407.5 L818.1 409.4 L820.0 431.2 L821.5 427.5 L825.0 436.2 L826.2 428.8 L829.4 428.1 L831.9 422.5 L833.8 421.9 L836.2 426.9 L839.4 418.1 L842.5 416.2 L845.0 420.0 L847.5 422.5 L850.6 412.5 L853.5 420.6 L855.6 415.6 L858.1 415.0 L860.0 420.6 L862.5 424.4 L865.0 423.1 L867.2 426.9 L869.4 418.8 L872.5 415.0 L875.0 418.8 L876.9 425.0 L878.8 433.1 L880.0 435.6 L882.6 430.0 L883.6 439.0 L885.0 453.0 L886.6 456.0 L888.5 452.0 L889.5 463.0 L890.5 467.5 L893.0 470.0 L895.5 466.5 L897.0 470.0 L899.0 479.0 L900.7 480.0 L901.3 510.0 L901.9 543.1 L905.0 540.6 L906.2 521.9 L909.0 515.6 L911.2 521.2 L912.5 530.0 L913.8 531.9 L915.6 518.8 L916.9 522.5 L918.8 517.5 L920.6 497.5 L922.5 497.5 L924.0 515.6 L926.9 517.5 L928.1 526.2 L930.0 524.4 L931.2 538.8 L932.8 546.9 L935.0 536.9 L938.1 533.8 L940.0 545.0 L941.9 551.2 L945.6 548.8 L947.5 556.2 L948.1 567.5 L951.2 572.5 L953.1 562.5 L955.6 550.0 L958.1 558.1 L960.0 556.2 L961.2 536.9 L963.8 542.5 L965.6 535.6 L968.1 533.8 L970.6 526.2 L973.4 520.6 L975.0 533.8 L978.1 535.6 L980.6 540.6 L983.1 535.6 L986.0 545.6 L989.1 536.9 L991.2 545.6 L995.0 546.2 L996.9 551.9 L1000.6 552.5 L1002.5 547.5 L1005.0 557.5 L1006.9 557.5 L1008.8 550.0 L1011.2 545.0 L1013.8 543.5 L1016.8 548.0 L1019.2 539.5 L1021.7 528.0 L1023.8 526.5 L1025.5 520.3 L1027.4 527.5 L1029.5 518.3 L1031.0 516.2 L1032.5 514.5 L1034.3 502.7 L1035.9 507.2 L1037.7 507.0 L1039.0 524.5 L1040.0 534.5 L1041.9 536.9 L1043.8 532.8 L1045.8 523.8 L1047.5 526.0 L1049.4 526.0 L1050.1 541.8 L1050.9 542.5 L1053.5 539.5 L1055.4 531.6 L1058.0 532.8 L1061.8 528.8 L1063.2 538.0 L1065.5 535.8 L1067.0 539.5 L1068.0 539.0 L1069.1 542.0 L1069.1 228.0 L46.5 228.0 Z" fill="url(#gr)" clip-path="url(#cd)"/>
<path d="M46.5 227.0 L48.5 226.0 L50.3 224.0 L51.5 224.0 L53.0 178.2 L53.5 178.2 L55.4 218.0 L56.3 226.0 L57.0 231.5 L60.0 234.0 L63.1 256.5 L65.0 242.5 L66.2 241.0 L68.1 229.0 L70.0 223.5 L73.1 211.9 L76.3 225.5 L77.5 231.5 L78.8 228.0 L80.2 218.3 L82.5 218.8 L84.4 229.0 L87.5 252.5 L89.4 236.5 L91.0 250.0 L92.5 253.8 L94.0 239.5 L96.9 243.8 L98.1 231.5 L101.0 235.6 L102.3 229.0 L103.8 223.1 L105.6 230.5 L106.9 225.0 L108.8 216.9 L111.2 220.0 L113.1 213.8 L114.6 222.2 L116.9 198.8 L120.0 208.1 L122.8 189.4 L126.2 206.2 L128.8 209.4 L131.9 198.1 L133.1 201.2 L138.8 157.5 L140.6 169.4 L143.1 151.2 L146.2 155.6 L147.5 168.8 L149.8 165.6 L152.5 190.0 L154.0 190.0 L157.5 179.4 L160.0 190.0 L162.8 183.8 L165.0 195.0 L166.9 215.0 L169.4 228.0 L171.9 213.8 L173.8 213.8 L176.9 198.1 L179.4 202.5 L181.2 195.3 L183.8 201.0 L185.6 198.5 L188.1 190.6 L190.6 198.8 L192.9 210.6 L195.0 198.8 L197.5 193.8 L199.8 185.6 L201.9 191.2 L204.4 193.1 L206.9 185.6 L208.8 191.9 L211.2 176.9 L213.1 178.1 L215.6 182.5 L218.1 185.6 L219.4 190.0 L221.9 195.6 L223.4 186.9 L225.6 193.8 L228.1 201.2 L229.6 229.0 L231.0 245.0 L233.0 249.0 L235.0 245.0 L236.5 232.5 L239.0 242.0 L242.0 248.5 L245.0 240.0 L246.8 233.5 L249.0 238.0 L252.5 247.0 L255.0 237.0 L256.5 231.0 L258.5 237.5 L261.0 231.5 L263.0 233.0 L265.5 226.0 L267.0 238.0 L268.5 243.0 L270.0 238.0 L271.0 219.0 L273.0 214.0 L275.6 205.0 L278.1 215.0 L279.2 220.0 L280.2 238.0 L281.7 240.0 L284.5 228.3 L286.0 236.0 L289.0 237.0 L291.5 233.0 L292.7 220.5 L294.0 219.0 L299.0 218.0 L302.0 209.5 L304.5 217.0 L306.5 222.8 L309.2 219.0 L310.7 223.0 L312.0 235.3 L314.5 231.8 L316.5 232.0 L319.0 225.5 L321.0 231.0 L322.5 228.0 L323.5 220.0 L326.5 213.6 L329.5 215.0 L331.1 202.0 L331.0 194.5 L332.5 192.5 L333.3 194.5 L334.0 208.0 L335.0 218.0 L337.0 207.5 L338.5 215.0 L339.0 229.0 L339.8 272.5 L341.2 285.6 L344.4 286.2 L346.2 282.5 L348.5 273.1 L350.0 278.8 L351.9 279.4 L355.0 275.6 L356.9 270.0 L360.0 268.1 L363.1 271.2 L365.0 282.5 L366.5 286.2 L368.4 302.5 L369.2 311.5 L370.6 302.2 L372.2 313.8 L373.4 338.2 L375.9 322.8 L377.5 323.2 L378.6 330.0 L380.3 335.0 L381.6 327.0 L383.1 306.5 L385.0 307.8 L386.6 299.4 L389.4 290.9 L391.7 296.9 L394.0 289.0 L395.4 300.6 L398.1 309.1 L400.9 306.2 L403.1 307.5 L405.6 303.4 L408.1 303.4 L410.0 313.1 L412.5 315.0 L414.2 311.9 L416.2 321.9 L418.3 328.8 L421.2 317.5 L425.0 311.9 L428.1 307.5 L430.6 310.6 L433.1 304.7 L435.6 305.0 L437.5 312.5 L439.7 330.0 L440.9 338.8 L443.1 328.1 L445.3 341.9 L446.2 358.8 L448.8 348.1 L450.0 356.2 L451.9 365.0 L454.4 350.0 L457.5 339.4 L460.0 342.5 L462.5 346.9 L465.0 346.9 L467.5 357.5 L470.0 364.4 L471.9 362.5 L474.4 351.2 L477.5 348.1 L480.6 346.9 L482.5 356.2 L485.0 356.2 L490.3 352.8 L492.5 358.1 L496.6 353.4 L501.2 340.0 L503.1 341.9 L505.6 350.0 L508.1 341.2 L510.6 341.2 L513.1 338.8 L515.6 343.8 L518.8 353.1 L521.2 350.6 L523.8 356.2 L525.6 355.0 L530.0 345.6 L533.1 348.8 L536.2 343.8 L539.4 349.4 L543.8 351.9 L546.2 353.1 L548.1 357.5 L550.6 359.4 L552.5 353.8 L553.8 346.2 L557.5 346.9 L562.5 348.8 L565.0 352.5 L567.5 353.8 L570.0 349.4 L573.1 357.5 L576.2 349.4 L579.4 349.4 L581.9 352.5 L583.8 347.5 L585.6 332.5 L588.8 319.4 L590.4 321.9 L591.9 305.0 L593.1 290.6 L595.0 290.6 L596.2 305.0 L597.5 305.6 L599.4 299.4 L601.2 306.9 L602.5 313.8 L604.4 308.1 L606.5 307.5 L608.1 317.5 L610.6 329.4 L613.8 318.8 L616.2 318.1 L618.1 320.6 L621.9 315.6 L624.4 320.0 L627.5 322.2 L630.3 326.2 L633.8 331.0 L637.5 326.2 L641.2 327.5 L644.0 326.2 L645.2 340.0 L648.1 346.9 L649.4 345.6 L651.2 353.1 L655.0 347.5 L658.8 346.2 L661.9 345.6 L664.4 348.1 L666.2 356.2 L667.5 380.0 L669.0 377.5 L670.2 396.2 L673.1 383.1 L675.6 383.8 L678.1 386.9 L680.0 376.2 L681.9 375.6 L686.2 376.9 L688.8 377.5 L690.6 382.5 L692.5 376.2 L695.0 382.5 L696.9 385.6 L698.1 383.8 L700.0 387.5 L703.8 392.5 L705.6 386.2 L708.1 392.5 L711.2 386.2 L714.4 385.6 L716.2 385.0 L718.1 381.9 L720.0 376.2 L722.5 376.9 L724.4 383.1 L726.2 378.8 L728.1 373.1 L731.9 368.8 L734.4 366.9 L736.2 376.2 L738.1 378.1 L740.0 378.1 L742.5 381.2 L743.8 380.0 L745.6 385.0 L748.8 389.4 L751.2 383.8 L755.6 378.8 L760.0 377.5 L763.1 380.0 L767.8 387.2 L770.6 383.1 L773.5 386.0 L776.5 385.0 L777.8 398.1 L779.8 395.0 L781.9 407.5 L784.0 403.1 L785.6 410.0 L786.9 419.4 L789.4 410.0 L792.5 414.4 L795.4 408.1 L797.8 409.4 L801.2 404.4 L804.4 411.9 L806.0 410.0 L808.8 416.9 L810.6 415.0 L812.5 408.8 L814.4 407.5 L818.1 409.4 L820.0 431.2 L821.5 427.5 L825.0 436.2 L826.2 428.8 L829.4 428.1 L831.9 422.5 L833.8 421.9 L836.2 426.9 L839.4 418.1 L842.5 416.2 L845.0 420.0 L847.5 422.5 L850.6 412.5 L853.5 420.6 L855.6 415.6 L858.1 415.0 L860.0 420.6 L862.5 424.4 L865.0 423.1 L867.2 426.9 L869.4 418.8 L872.5 415.0 L875.0 418.8 L876.9 425.0 L878.8 433.1 L880.0 435.6 L882.6 430.0 L883.6 439.0 L885.0 453.0 L886.6 456.0 L888.5 452.0 L889.5 463.0 L890.5 467.5 L893.0 470.0 L895.5 466.5 L897.0 470.0 L899.0 479.0 L900.7 480.0 L901.3 510.0 L901.9 543.1 L905.0 540.6 L906.2 521.9 L909.0 515.6 L911.2 521.2 L912.5 530.0 L913.8 531.9 L915.6 518.8 L916.9 522.5 L918.8 517.5 L920.6 497.5 L922.5 497.5 L924.0 515.6 L926.9 517.5 L928.1 526.2 L930.0 524.4 L931.2 538.8 L932.8 546.9 L935.0 536.9 L938.1 533.8 L940.0 545.0 L941.9 551.2 L945.6 548.8 L947.5 556.2 L948.1 567.5 L951.2 572.5 L953.1 562.5 L955.6 550.0 L958.1 558.1 L960.0 556.2 L961.2 536.9 L963.8 542.5 L965.6 535.6 L968.1 533.8 L970.6 526.2 L973.4 520.6 L975.0 533.8 L978.1 535.6 L980.6 540.6 L983.1 535.6 L986.0 545.6 L989.1 536.9 L991.2 545.6 L995.0 546.2 L996.9 551.9 L1000.6 552.5 L1002.5 547.5 L1005.0 557.5 L1006.9 557.5 L1008.8 550.0 L1011.2 545.0 L1013.8 543.5 L1016.8 548.0 L1019.2 539.5 L1021.7 528.0 L1023.8 526.5 L1025.5 520.3 L1027.4 527.5 L1029.5 518.3 L1031.0 516.2 L1032.5 514.5 L1034.3 502.7 L1035.9 507.2 L1037.7 507.0 L1039.0 524.5 L1040.0 534.5 L1041.9 536.9 L1043.8 532.8 L1045.8 523.8 L1047.5 526.0 L1049.4 526.0 L1050.1 541.8 L1050.9 542.5 L1053.5 539.5 L1055.4 531.6 L1058.0 532.8 L1061.8 528.8 L1063.2 538.0 L1065.5 535.8 L1067.0 539.5 L1068.0 539.0 L1069.1 542.0" fill="none" stroke="#16c784" stroke-width="3.9" stroke-linejoin="round" stroke-linecap="round" clip-path="url(#cu)"/>
<path d="M46.5 227.0 L48.5 226.0 L50.3 224.0 L51.5 224.0 L53.0 178.2 L53.5 178.2 L55.4 218.0 L56.3 226.0 L57.0 231.5 L60.0 234.0 L63.1 256.5 L65.0 242.5 L66.2 241.0 L68.1 229.0 L70.0 223.5 L73.1 211.9 L76.3 225.5 L77.5 231.5 L78.8 228.0 L80.2 218.3 L82.5 218.8 L84.4 229.0 L87.5 252.5 L89.4 236.5 L91.0 250.0 L92.5 253.8 L94.0 239.5 L96.9 243.8 L98.1 231.5 L101.0 235.6 L102.3 229.0 L103.8 223.1 L105.6 230.5 L106.9 225.0 L108.8 216.9 L111.2 220.0 L113.1 213.8 L114.6 222.2 L116.9 198.8 L120.0 208.1 L122.8 189.4 L126.2 206.2 L128.8 209.4 L131.9 198.1 L133.1 201.2 L138.8 157.5 L140.6 169.4 L143.1 151.2 L146.2 155.6 L147.5 168.8 L149.8 165.6 L152.5 190.0 L154.0 190.0 L157.5 179.4 L160.0 190.0 L162.8 183.8 L165.0 195.0 L166.9 215.0 L169.4 228.0 L171.9 213.8 L173.8 213.8 L176.9 198.1 L179.4 202.5 L181.2 195.3 L183.8 201.0 L185.6 198.5 L188.1 190.6 L190.6 198.8 L192.9 210.6 L195.0 198.8 L197.5 193.8 L199.8 185.6 L201.9 191.2 L204.4 193.1 L206.9 185.6 L208.8 191.9 L211.2 176.9 L213.1 178.1 L215.6 182.5 L218.1 185.6 L219.4 190.0 L221.9 195.6 L223.4 186.9 L225.6 193.8 L228.1 201.2 L229.6 229.0 L231.0 245.0 L233.0 249.0 L235.0 245.0 L236.5 232.5 L239.0 242.0 L242.0 248.5 L245.0 240.0 L246.8 233.5 L249.0 238.0 L252.5 247.0 L255.0 237.0 L256.5 231.0 L258.5 237.5 L261.0 231.5 L263.0 233.0 L265.5 226.0 L267.0 238.0 L268.5 243.0 L270.0 238.0 L271.0 219.0 L273.0 214.0 L275.6 205.0 L278.1 215.0 L279.2 220.0 L280.2 238.0 L281.7 240.0 L284.5 228.3 L286.0 236.0 L289.0 237.0 L291.5 233.0 L292.7 220.5 L294.0 219.0 L299.0 218.0 L302.0 209.5 L304.5 217.0 L306.5 222.8 L309.2 219.0 L310.7 223.0 L312.0 235.3 L314.5 231.8 L316.5 232.0 L319.0 225.5 L321.0 231.0 L322.5 228.0 L323.5 220.0 L326.5 213.6 L329.5 215.0 L331.1 202.0 L331.0 194.5 L332.5 192.5 L333.3 194.5 L334.0 208.0 L335.0 218.0 L337.0 207.5 L338.5 215.0 L339.0 229.0 L339.8 272.5 L341.2 285.6 L344.4 286.2 L346.2 282.5 L348.5 273.1 L350.0 278.8 L351.9 279.4 L355.0 275.6 L356.9 270.0 L360.0 268.1 L363.1 271.2 L365.0 282.5 L366.5 286.2 L368.4 302.5 L369.2 311.5 L370.6 302.2 L372.2 313.8 L373.4 338.2 L375.9 322.8 L377.5 323.2 L378.6 330.0 L380.3 335.0 L381.6 327.0 L383.1 306.5 L385.0 307.8 L386.6 299.4 L389.4 290.9 L391.7 296.9 L394.0 289.0 L395.4 300.6 L398.1 309.1 L400.9 306.2 L403.1 307.5 L405.6 303.4 L408.1 303.4 L410.0 313.1 L412.5 315.0 L414.2 311.9 L416.2 321.9 L418.3 328.8 L421.2 317.5 L425.0 311.9 L428.1 307.5 L430.6 310.6 L433.1 304.7 L435.6 305.0 L437.5 312.5 L439.7 330.0 L440.9 338.8 L443.1 328.1 L445.3 341.9 L446.2 358.8 L448.8 348.1 L450.0 356.2 L451.9 365.0 L454.4 350.0 L457.5 339.4 L460.0 342.5 L462.5 346.9 L465.0 346.9 L467.5 357.5 L470.0 364.4 L471.9 362.5 L474.4 351.2 L477.5 348.1 L480.6 346.9 L482.5 356.2 L485.0 356.2 L490.3 352.8 L492.5 358.1 L496.6 353.4 L501.2 340.0 L503.1 341.9 L505.6 350.0 L508.1 341.2 L510.6 341.2 L513.1 338.8 L515.6 343.8 L518.8 353.1 L521.2 350.6 L523.8 356.2 L525.6 355.0 L530.0 345.6 L533.1 348.8 L536.2 343.8 L539.4 349.4 L543.8 351.9 L546.2 353.1 L548.1 357.5 L550.6 359.4 L552.5 353.8 L553.8 346.2 L557.5 346.9 L562.5 348.8 L565.0 352.5 L567.5 353.8 L570.0 349.4 L573.1 357.5 L576.2 349.4 L579.4 349.4 L581.9 352.5 L583.8 347.5 L585.6 332.5 L588.8 319.4 L590.4 321.9 L591.9 305.0 L593.1 290.6 L595.0 290.6 L596.2 305.0 L597.5 305.6 L599.4 299.4 L601.2 306.9 L602.5 313.8 L604.4 308.1 L606.5 307.5 L608.1 317.5 L610.6 329.4 L613.8 318.8 L616.2 318.1 L618.1 320.6 L621.9 315.6 L624.4 320.0 L627.5 322.2 L630.3 326.2 L633.8 331.0 L637.5 326.2 L641.2 327.5 L644.0 326.2 L645.2 340.0 L648.1 346.9 L649.4 345.6 L651.2 353.1 L655.0 347.5 L658.8 346.2 L661.9 345.6 L664.4 348.1 L666.2 356.2 L667.5 380.0 L669.0 377.5 L670.2 396.2 L673.1 383.1 L675.6 383.8 L678.1 386.9 L680.0 376.2 L681.9 375.6 L686.2 376.9 L688.8 377.5 L690.6 382.5 L692.5 376.2 L695.0 382.5 L696.9 385.6 L698.1 383.8 L700.0 387.5 L703.8 392.5 L705.6 386.2 L708.1 392.5 L711.2 386.2 L714.4 385.6 L716.2 385.0 L718.1 381.9 L720.0 376.2 L722.5 376.9 L724.4 383.1 L726.2 378.8 L728.1 373.1 L731.9 368.8 L734.4 366.9 L736.2 376.2 L738.1 378.1 L740.0 378.1 L742.5 381.2 L743.8 380.0 L745.6 385.0 L748.8 389.4 L751.2 383.8 L755.6 378.8 L760.0 377.5 L763.1 380.0 L767.8 387.2 L770.6 383.1 L773.5 386.0 L776.5 385.0 L777.8 398.1 L779.8 395.0 L781.9 407.5 L784.0 403.1 L785.6 410.0 L786.9 419.4 L789.4 410.0 L792.5 414.4 L795.4 408.1 L797.8 409.4 L801.2 404.4 L804.4 411.9 L806.0 410.0 L808.8 416.9 L810.6 415.0 L812.5 408.8 L814.4 407.5 L818.1 409.4 L820.0 431.2 L821.5 427.5 L825.0 436.2 L826.2 428.8 L829.4 428.1 L831.9 422.5 L833.8 421.9 L836.2 426.9 L839.4 418.1 L842.5 416.2 L845.0 420.0 L847.5 422.5 L850.6 412.5 L853.5 420.6 L855.6 415.6 L858.1 415.0 L860.0 420.6 L862.5 424.4 L865.0 423.1 L867.2 426.9 L869.4 418.8 L872.5 415.0 L875.0 418.8 L876.9 425.0 L878.8 433.1 L880.0 435.6 L882.6 430.0 L883.6 439.0 L885.0 453.0 L886.6 456.0 L888.5 452.0 L889.5 463.0 L890.5 467.5 L893.0 470.0 L895.5 466.5 L897.0 470.0 L899.0 479.0 L900.7 480.0 L901.3 510.0 L901.9 543.1 L905.0 540.6 L906.2 521.9 L909.0 515.6 L911.2 521.2 L912.5 530.0 L913.8 531.9 L915.6 518.8 L916.9 522.5 L918.8 517.5 L920.6 497.5 L922.5 497.5 L924.0 515.6 L926.9 517.5 L928.1 526.2 L930.0 524.4 L931.2 538.8 L932.8 546.9 L935.0 536.9 L938.1 533.8 L940.0 545.0 L941.9 551.2 L945.6 548.8 L947.5 556.2 L948.1 567.5 L951.2 572.5 L953.1 562.5 L955.6 550.0 L958.1 558.1 L960.0 556.2 L961.2 536.9 L963.8 542.5 L965.6 535.6 L968.1 533.8 L970.6 526.2 L973.4 520.6 L975.0 533.8 L978.1 535.6 L980.6 540.6 L983.1 535.6 L986.0 545.6 L989.1 536.9 L991.2 545.6 L995.0 546.2 L996.9 551.9 L1000.6 552.5 L1002.5 547.5 L1005.0 557.5 L1006.9 557.5 L1008.8 550.0 L1011.2 545.0 L1013.8 543.5 L1016.8 548.0 L1019.2 539.5 L1021.7 528.0 L1023.8 526.5 L1025.5 520.3 L1027.4 527.5 L1029.5 518.3 L1031.0 516.2 L1032.5 514.5 L1034.3 502.7 L1035.9 507.2 L1037.7 507.0 L1039.0 524.5 L1040.0 534.5 L1041.9 536.9 L1043.8 532.8 L1045.8 523.8 L1047.5 526.0 L1049.4 526.0 L1050.1 541.8 L1050.9 542.5 L1053.5 539.5 L1055.4 531.6 L1058.0 532.8 L1061.8 528.8 L1063.2 538.0 L1065.5 535.8 L1067.0 539.5 L1068.0 539.0 L1069.1 542.0" fill="none" stroke="#ea3943" stroke-width="3.9" stroke-linejoin="round" stroke-linecap="round" clip-path="url(#cd)"/>
<line x1="48" y1="229" x2="1070" y2="229" stroke="#808080" stroke-width="2" stroke-dasharray="2 6"/>
</svg>
<svg class="lbl" width="1200" height="800" viewBox="0 0 1200 800">
<g text-rendering="geometricPrecision" font-family="'Liberation Sans', sans-serif" font-size="22" fill="#808a9d">
<text transform="translate(1082.1 150.20) scale(1 1.05)">1.8</text>
<text transform="translate(1082.1 270.20) scale(1 1.05)">1.6</text>
<text transform="translate(1082.1 392.20) scale(1 1.05)">1.4</text>
<text transform="translate(1082.1 512.20) scale(1 1.05)">1.2</text>
<text transform="translate(1082.1 634.20) scale(1 1.05)">1.0</text>
<text transform="translate(127.6 773.9) scale(1 1.05)" text-anchor="middle">13 Mar</text>
<text transform="translate(419 773.9) scale(1 1.05)" text-anchor="middle">15 Mar</text>
<text transform="translate(710 773.9) scale(1 1.05)" text-anchor="middle">17 Mar</text>
<text transform="translate(1001.9 773.9) scale(1 1.05)" text-anchor="middle">19 Mar</text>
</g></svg>
</body></html>
